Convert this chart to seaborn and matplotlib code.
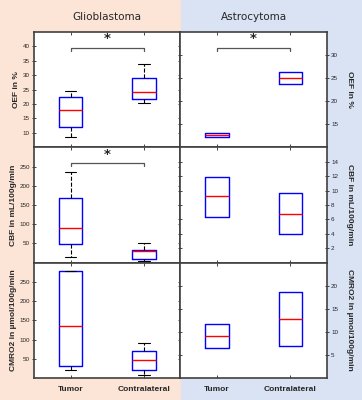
import numpy as np
import pandas as pd
import matplotlib
matplotlib.use('Agg')
import matplotlib.pyplot as plt
import matplotlib.transforms as mtransforms
import seaborn as sns

sns.set_style('white')
plt.rcParams['font.family'] = ['Liberation Sans', 'DejaVu Sans']

groups = ['Tumor', 'Contralateral']
tumor_types = ['Glioblastoma', 'Astrocytoma']
ylabels = ['OEF in %', 'CBF in mL/100g/min', 'CMRO2 in µmol/100g/min']

# five-number summaries: low whisker, q1, median, q3, high whisker
gbm_oef_tumor = [8.6, 12.2, 17.9, 22.3, 24.6]
gbm_oef_contra = [20.3, 21.7, 24.3, 29.0, 34.0]
gbm_cbf_tumor = [15, 49, 90, 169, 235]
gbm_cbf_contra = [4, 10, 30, 32, 51]
gbm_cmro2_tumor = [22, 32, 135, 278, 279]
gbm_cmro2_contra = [7, 21, 47, 70, 90]

astro_oef_tumor = [12.3, 12.3, 12.6, 13.0, 13.0]
astro_oef_contra = [23.8, 23.8, 25.0, 26.4, 26.4]
astro_cbf_tumor = [6.4, 6.4, 9.2, 11.9, 11.9]
astro_cbf_contra = [4.0, 4.0, 6.8, 9.6, 9.6]
astro_cmro2_tumor = [6.45, 6.45, 9.0, 11.6, 11.6]
astro_cmro2_contra = [6.9, 6.9, 12.7, 18.6, 18.6]

gbm_data = [(gbm_oef_tumor, gbm_oef_contra),
            (gbm_cbf_tumor, gbm_cbf_contra),
            (gbm_cmro2_tumor, gbm_cmro2_contra)]
astro_data = [(astro_oef_tumor, astro_oef_contra),
              (astro_cbf_tumor, astro_cbf_contra),
              (astro_cmro2_tumor, astro_cmro2_contra)]

gbm_ylim = [(5, 45), (0, 300), (0, 300)]
gbm_yticks = [[10, 15, 20, 25, 30, 35, 40], [50, 100, 150, 200, 250], [50, 100, 150, 200, 250]]
astro_ylim = [(10, 35), (0, 16), (0, 25)]
astro_yticks = [[15, 20, 25, 30], [2, 4, 6, 8, 10, 12, 14], [5, 10, 15, 20]]

# significance stars: (row, col)
significant = [(0, 0), (1, 0), (0, 1)]

fig = plt.figure(figsize=(3.62, 4.0), dpi=100)
fig.patches.append(plt.Rectangle((0, 0), 0.5, 1, transform=fig.transFigure,
                                 color='#FCE4D6', zorder=-10))
fig.patches.append(plt.Rectangle((0.5, 0), 0.5, 1, transform=fig.transFigure,
                                 color='#DAE3F3', zorder=-10))
axes = fig.subplots(3, 2)
fig.subplots_adjust(left=0.094, right=0.903, top=0.92, bottom=0.055, wspace=0, hspace=0)

for col, (dataset, ylims, yticks) in enumerate([(gbm_data, gbm_ylim, gbm_yticks),
                                                  (astro_data, astro_ylim, astro_yticks)]):
    for row in range(3):
        ax = axes[row, col]
        tumor, contra = dataset[row]
        df = pd.DataFrame({'group': [groups[0]] * len(tumor) + [groups[1]] * len(contra),
                           'value': tumor + contra})
        sns.boxplot(data=df, x='group', y='value', order=groups, ax=ax, width=0.32,
                    fill=False, whis=1.5, showfliers=False, showcaps=(col == 0),
                    boxprops=dict(color='#0000FF', linewidth=1.0),
                    medianprops=dict(color='#FF0000', linewidth=1.0),
                    whiskerprops=dict(color='black', linewidth=0.8, linestyle='--'),
                    capprops=dict(color='black', linewidth=0.8))
        ax.set_facecolor('white')
        ax.set_xlim(-0.5, 1.5)
        ax.set_ylim(*ylims[row])
        ax.set_yticks(yticks[row])
        ax.set_xticks([0, 1])
        ax.tick_params(direction='in', length=2.5, width=0.6, labelsize=4.5,
                       top=True, bottom=True, left=True, right=True, pad=1.5)
        ax.tick_params(axis='y', direction='inout', length=3)
        if col == 1:
            ax.yaxis.tick_right()
            ax.tick_params(left=True, right=True, labelleft=False, labelright=True)
            ax.yaxis.set_label_position('right')
            ax.set_ylabel(ylabels[row], fontsize=6, fontweight='bold', rotation=270,
                          labelpad=11)
        else:
            ax.set_ylabel(ylabels[row], fontsize=6, fontweight='bold', labelpad=2)
        if row == 2:
            ax.set_xticklabels(groups, fontsize=6, fontweight='bold')
            ax.tick_params(axis='x', pad=6)
        else:
            ax.set_xticklabels([])
        ax.set_xlabel('')
        for s in ax.spines.values():
            s.set_color('#404040')
            s.set_linewidth(1.2)
            s.set_visible(True)
        if row == 0:
            ax.set_title(tumor_types[col], fontsize=7.5, family='DejaVu Sans', pad=9)
        if (row, col) in significant:
            tr = mtransforms.blended_transform_factory(ax.transData, ax.transAxes)
            ax.plot([0, 0, 1, 1], [0.835, 0.86, 0.86, 0.835], transform=tr,
                    color='#555555', linewidth=0.9, clip_on=False)
            ax.text(0.5, 0.885, '*', transform=tr, ha='center', va='bottom',
                    fontsize=9.5, fontweight='bold', family='DejaVu Sans')

fig.savefig('out.png', dpi=100)
